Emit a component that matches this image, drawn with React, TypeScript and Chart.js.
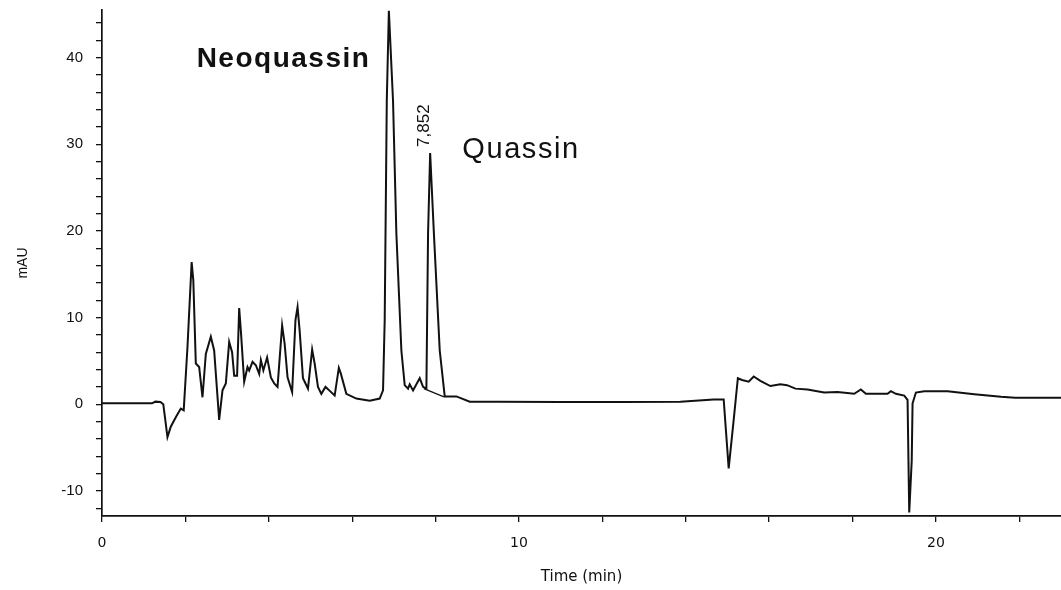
import React, { useEffect, useRef } from 'react';
import { Chart, registerables } from 'chart.js';

Chart.register(...registerables);

// Retention time (min) of the chromatogram trace
const timeMin: number[] = [
  0, 1.2, 1.28, 1.4, 1.47, 1.57, 1.65, 1.77, 1.89, 1.96,
  2.05, 2.15, 2.19, 2.25, 2.33, 2.41, 2.49, 2.61, 2.69, 2.81,
  2.89, 2.97, 3.05, 3.12, 3.17, 3.24, 3.29, 3.33, 3.41, 3.49,
  3.53, 3.61, 3.69, 3.77, 3.81, 3.87, 3.96, 4.05, 4.13, 4.21,
  4.32, 4.38, 4.45, 4.56, 4.64, 4.69, 4.74, 4.82, 4.94, 5.04,
  5.1, 5.18, 5.26, 5.36, 5.45, 5.58, 5.68, 5.73, 5.86, 6.1,
  6.42, 6.66, 6.74, 6.78, 6.83, 6.88, 6.98, 7.06, 7.18, 7.26,
  7.34, 7.38, 7.46, 7.62, 7.7, 7.78, 7.82, 7.87, 7.96, 8.1,
  8.22, 8.5, 8.82, 9.5, 11.0, 12.5, 13.87, 14.67, 14.91, 15.03,
  15.15, 15.25, 15.35, 15.51, 15.63, 15.79, 16.03, 16.27, 16.43, 16.63,
  16.92, 17.32, 17.64, 18.04, 18.2, 18.32, 18.84, 18.92, 19.04, 19.24,
  19.32, 19.36, 19.42, 19.44, 19.52, 19.72, 20.28, 20.92, 21.56, 21.9,
  23.0,
];

// Detector signal (mAU)
const signalMAU: number[] = [
  0.1, 0.1, 0.3, 0.25, 0.0, -3.8, -2.6, -1.5, -0.5, -0.7,
  6.6, 16.4, 14.3, 4.7, 4.3, 0.8, 5.8, 7.8, 6.2, -1.8,
  1.6, 2.4, 7.2, 6.0, 3.3, 3.3, 11.1, 8.5, 2.6, 4.3,
  3.9, 4.9, 4.5, 3.5, 5.1, 3.9, 5.4, 3.1, 2.4, 2.0,
  9.1, 7.0, 3.1, 1.4, 9.7, 11.2, 8.5, 3.0, 1.8, 6.3,
  4.7, 2.0, 1.2, 2.0, 1.6, 1.0, 4.2, 3.5, 1.2, 0.65,
  0.4, 0.65, 1.6, 9.7, 35, 45.4, 35, 19.7, 6.2, 2.2,
  1.8, 2.3, 1.6, 3.0, 2.0, 1.8, 19.7, 29.0, 19.7, 6.2,
  0.9, 0.9, 0.3, 0.3, 0.25, 0.25, 0.3, 0.54, 0.55, -7.4,
  -1.8, 3.0, 2.8, 2.6, 3.2, 2.7, 2.1, 2.3, 2.2, 1.8,
  1.7, 1.35, 1.4, 1.2, 1.7, 1.2, 1.2, 1.5, 1.2, 1.0,
  0.5, -12.5, -6.5, 0.1, 1.35, 1.5, 1.5, 1.15, 0.85, 0.75,
  0.75,
];

// Integration baseline drawn under the Quassin peak
const baselineTime: number[] = [7.72, 8.2];
const baselineMAU: number[] = [1.8, 0.85];

// Labelled ticks
const xTickLabels: number[] = [0, 10, 20];
const yTickLabels: number[] = [-10, 0, 10, 20, 30, 40];

// Peak annotations
const peakNames: string[] = ['Neoquassin', 'Quassin'];
const peakLabelTime: number[] = [2.27, 8.64];
const peakLabelMAU: number[] = [38.9, 28.4];
const retentionLabel = '7,852';
const retentionLabelTime = 7.73;
const retentionLabelMAU = 29.7;

const INK = '#111111';

const annotationPlugin = {
  id: 'peakAnnotations',
  afterDatasetsDraw(chart: any) {
    const { ctx, scales } = chart;
    const x = scales.x;
    const y = scales.y;
    ctx.save();
    ctx.fillStyle = INK;
    ctx.textAlign = 'left';
    ctx.textBaseline = 'alphabetic';
    ctx.font = 'bold 28px "Liberation Sans", Arial, sans-serif';
    (ctx as any).letterSpacing = '1.5px';
    ctx.fillText(peakNames[0], x.getPixelForValue(peakLabelTime[0]), y.getPixelForValue(peakLabelMAU[0]));
    ctx.font = '29px "Liberation Sans", Arial, sans-serif';
    (ctx as any).letterSpacing = '1.6px';
    ctx.fillText(peakNames[1], x.getPixelForValue(peakLabelTime[1]), y.getPixelForValue(peakLabelMAU[1]));
    (ctx as any).letterSpacing = '0px';
    ctx.translate(x.getPixelForValue(retentionLabelTime), y.getPixelForValue(retentionLabelMAU));
    ctx.rotate(-Math.PI / 2);
    ctx.font = '17px "Liberation Sans", Arial, sans-serif';
    ctx.textBaseline = 'middle';
    ctx.fillText(retentionLabel, 0, 0);
    ctx.restore();
  },
};

export default function App() {
  const canvasRef = useRef<HTMLCanvasElement | null>(null);

  useEffect(() => {
    const canvas = canvasRef.current;
    if (!canvas) return;
    const trace = timeMin.map((t, i) => ({ x: t, y: signalMAU[i] }));
    const base = baselineTime.map((t, i) => ({ x: t, y: baselineMAU[i] }));

    const chart = new Chart(canvas, {
      type: 'line',
      data: {
        datasets: [
          {
            data: trace,
            borderColor: INK,
            borderWidth: 2,
            pointRadius: 0,
            tension: 0,
            fill: false,
          },
          {
            data: base,
            borderColor: INK,
            borderWidth: 1.3,
            pointRadius: 0,
            tension: 0,
            fill: false,
          },
        ],
      },
      options: {
        animation: false,
        responsive: false,
        events: [],
        layout: { padding: { top: 10, right: 0, left: 0, bottom: 0 } },
        plugins: {
          legend: { display: false },
          tooltip: { enabled: false },
          title: { display: false },
        },
        scales: {
          x: {
            type: 'linear',
            min: 0,
            max: 23,
            afterFit: (scale: any) => {
              scale.height = 74;
              scale.paddingLeft = 0;
              scale.paddingRight = 0;
            },
            border: { display: true, color: INK, width: 1.7 },
            grid: {
              display: true,
              drawOnChartArea: false,
              drawTicks: true,
              tickLength: 6,
              color: INK,
              lineWidth: 1.3,
            },
            ticks: {
              stepSize: 2,
              includeBounds: false,
              autoSkip: false,
              maxRotation: 0,
              padding: 13,
              color: INK,
              font: { family: '"DejaVu Sans", Verdana, sans-serif', size: 14 },
              callback: (v: any) => (xTickLabels.includes(Number(v)) ? String(v) : ''),
            },
            title: {
              display: true,
              text: 'Time (min)',
              color: INK,
              font: { family: '"DejaVu Sans", Verdana, sans-serif', size: 15 },
              padding: { top: 0, bottom: 4 },
            },
          },
          y: {
            type: 'linear',
            min: -12.9,
            max: 45.5,
            afterFit: (scale: any) => {
              scale.width = 102;
              scale.paddingTop = 0;
              scale.paddingBottom = 0;
            },
            border: { display: true, color: INK, width: 1.7 },
            grid: {
              display: true,
              drawOnChartArea: false,
              drawTicks: true,
              tickLength: 6,
              color: INK,
              lineWidth: 1.3,
            },
            ticks: {
              stepSize: 2,
              includeBounds: false,
              autoSkip: false,
              padding: 13,
              color: INK,
              font: { family: '"Liberation Sans", Arial, sans-serif', size: 15 },
              callback: (v: any) => (yTickLabels.includes(Number(v)) ? String(v) : ''),
            },
            title: {
              display: true,
              text: 'mAU',
              color: INK,
              font: { family: '"Liberation Sans", Arial, sans-serif', size: 14 },
              padding: { top: 15, bottom: 0 },
            },
          },
        },
      },
      plugins: [annotationPlugin],
    });

    return () => {
      chart.destroy();
    };
  }, []);

  return (
    <div style={{ position: 'absolute', left: 0, top: 0, width: 1061, height: 590, background: '#fff' }}>
      <canvas ref={canvasRef} width={1061} height={590} />
    </div>
  );
}
